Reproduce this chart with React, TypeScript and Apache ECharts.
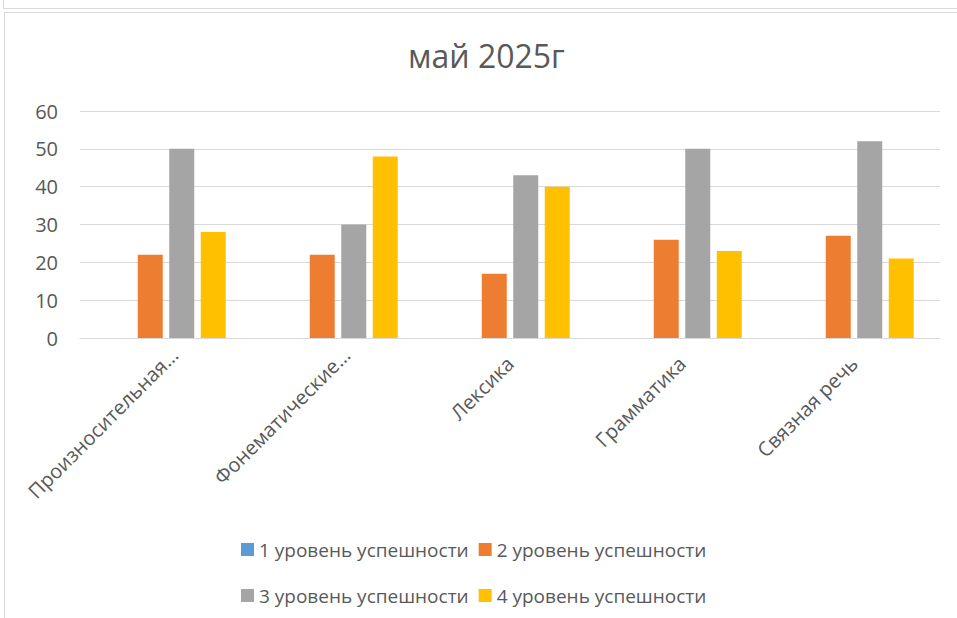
import React, { useEffect, useRef } from "react";
import * as echarts from "echarts";

const categories = [
  "Произносительная…",
  "Фонематические…",
  "Лексика",
  "Грамматика",
  "Связная речь",
];
const seriesNames = [
  "1 уровень успешности",
  "2 уровень успешности",
  "3 уровень успешности",
  "4 уровень успешности",
];
const level1 = [0, 0, 0, 0, 0];
const level2 = [22, 22, 17, 26, 27];
const level3 = [50, 30, 43, 50, 52];
const level4 = [28, 48, 40, 23, 21];
const colors = ["#5b9bd5", "#ed7d31", "#a5a5a5", "#ffc000"];
const title = "май 2025г";

const FONT = "Open Sans";
const TXT = "#595959";

export default function App() {
  const ref = useRef<HTMLDivElement>(null);
  useEffect(() => {
    document.body.style.margin = "0";
    const chart = echarts.init(ref.current!, null, { renderer: "svg" });
    const values = [level1, level2, level3, level4];
    const longLabel = (v: string) => ({
      value: v,
      textStyle: { padding: [0, -12, 10, 0] },
    });
    chart.setOption({
      animation: false,
      backgroundColor: "#ffffff",
      title: {
        text: title,
        left: 403,
        top: 34,
        textStyle: { fontFamily: FONT, fontSize: 32, fontWeight: "normal", color: TXT },
      },
      grid: { left: 80, right: 17, top: 111, bottom: 280, containLabel: false },
      legend: [
        {
          data: [seriesNames[0], seriesNames[1]],
          left: 236,
          top: 535,
          itemWidth: 13,
          itemHeight: 13,
          itemGap: 10,
          icon: "rect",
          textStyle: { fontFamily: FONT, fontSize: 19, color: TXT },
        },
        {
          data: [seriesNames[2], seriesNames[3]],
          left: 236,
          top: 581,
          itemWidth: 13,
          itemHeight: 13,
          itemGap: 10,
          icon: "rect",
          textStyle: { fontFamily: FONT, fontSize: 19, color: TXT },
        },
      ],
      xAxis: {
        type: "category",
        data: [
          longLabel(categories[0]),
          longLabel(categories[1]),
          categories[2],
          categories[3],
          categories[4],
        ],
        axisLine: { lineStyle: { color: "#d9d9d9", width: 1 } },
        axisTick: { show: false },
        axisLabel: {
          rotate: 45,
          interval: 0,
          margin: 22,
          fontFamily: FONT,
          fontSize: 20,
          color: TXT,
        },
      },
      yAxis: {
        type: "value",
        min: 0,
        max: 60,
        interval: 10,
        axisLine: { show: false },
        axisTick: { show: false },
        splitLine: { lineStyle: { color: "#d9d9d9", width: 1 } },
        axisLabel: { fontFamily: FONT, fontSize: 20, color: TXT, margin: 22 },
      },
      graphic: [
        { type: "line", shape: { x1: 3.5, y1: 0, x2: 3.5, y2: 8 }, style: { stroke: "#d9d9d9", lineWidth: 1 } },
        { type: "line", shape: { x1: 3, y1: 8.5, x2: 957, y2: 8.5 }, style: { stroke: "#d9d9d9", lineWidth: 1 } },
        { type: "line", shape: { x1: 4.5, y1: 12, x2: 4.5, y2: 618 }, style: { stroke: "#d9d9d9", lineWidth: 1 } },
        { type: "line", shape: { x1: 4, y1: 12.5, x2: 957, y2: 12.5 }, style: { stroke: "#d9d9d9", lineWidth: 1 } },
      ],
      series: seriesNames.map((name, i) => ({
        name,
        type: "bar",
        data: values[i],
        barWidth: 25,
        barGap: "26%",
        itemStyle: { color: colors[i] },
      })),
    });
    return () => chart.dispose();
  }, []);
  return <div ref={ref} style={{ width: 957, height: 618 }} />;
}
